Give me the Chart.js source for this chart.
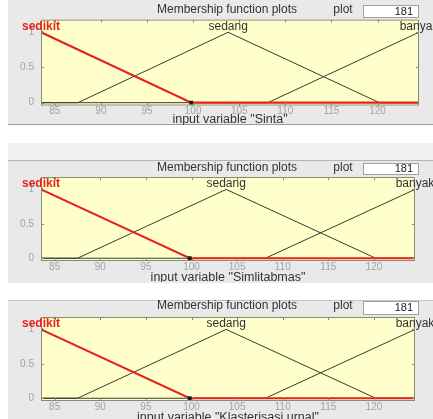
<!DOCTYPE html>
<html>
<head>
<meta charset="utf-8">
<script src="https://cdn.jsdelivr.net/npm/chart.js@4.4.1/dist/chart.umd.min.js"></script>
<style>
  html, body { margin: 0; padding: 0; background: #fff; }
  #wrap { position: relative; width: 433px; height: 419px; overflow: hidden; }
  .panel { position: absolute; left: 8px; right: 0; background: #e9e9e9; }
  canvas { position: absolute; left: 0; }
</style>
</head>
<body>
<div id="wrap">
  <div class="panel" style="top:0;height:124px;border-bottom:1px solid #9c9c9c;"></div>
  <div class="panel" style="top:143px;height:17px;background:#f1f1f1;"></div>
  <div class="panel" style="top:160px;height:122px;border-top:1px solid #b4b4b4;"></div>
  <div class="panel" style="top:300px;height:119px;border-top:1px solid #c4c4c4;"></div>
  <canvas id="c1" width="433" height="125" style="top:0"></canvas>
  <canvas id="c2" width="433" height="122" style="top:160px"></canvas>
  <canvas id="c3" width="433" height="119" style="top:300px"></canvas>
</div>
<script>
// data membership function (trimf)
const variableNames = ['Sinta', 'Simlitabmas', 'Klasterisasi urnal'];
const mfNames = ['sedikit', 'sedang', 'banyak'];
const xRange = [83.5, 124.5];
const yRange = [-0.04, 1.18];
const xTicks = [85, 90, 95, 100, 105, 110, 115, 120];
const yTicks = [0, 0.5, 1];
const sedikitX = [83.5, 99.8, 124.5];
const sedikitY = [1, 0, 0];
const sedangX = [83.5, 87.5, 103.8, 120.2, 124.5];
const sedangY = [0, 0, 1, 0, 0];
const banyakX = [83.5, 108.1, 124.5];
const banyakY = [0, 0, 1];
const plotValue = '181';

// letak tiap panel (pixel)
const panels = [
  { id: 'c1', h: 125, top: 19.6, bottom: 105.5, right: 419, titleY: 10, box: [5, 17], xlabelY: 120 },
  { id: 'c2', h: 122, top: 17, bottom: 101, right: 415, titleY: 8, box: [3, 14], xlabelY: 118 },
  { id: 'c3', h: 119, top: 17, bottom: 101, right: 415, titleY: 6, box: [1, 14], xlabelY: 118 }
];

const FONT = '"Liberation Sans", Arial, sans-serif';
const toPts = (xs, ys) => xs.map((x, i) => ({ x: x, y: ys[i] }));

function mfPlugin(p, varName) {
  return {
    id: 'mf',
    beforeDatasetsDraw(chart) {
      const a = chart.chartArea, ctx = chart.ctx;
      ctx.save();
      ctx.fillStyle = '#ffffcc';
      ctx.fillRect(a.left, a.top, a.right - a.left, a.bottom - a.top);
      ctx.restore();
    },
    afterDraw(chart) {
      const a = chart.chartArea, ctx = chart.ctx;
      const xs = chart.scales.x, ys = chart.scales.y;
      ctx.save();
      // kotak sumbu + tick ke dalam
      ctx.strokeStyle = '#8a8a74';
      ctx.lineWidth = 1;
      ctx.strokeRect(a.left + 0.5, a.top + 0.5, a.right - a.left - 1, a.bottom - a.top - 1);
      ctx.beginPath();
      xTicks.forEach(v => {
        const px = Math.round(xs.getPixelForValue(v)) + 0.5;
        ctx.moveTo(px, a.top); ctx.lineTo(px, a.top + 3);
        ctx.moveTo(px, a.bottom); ctx.lineTo(px, a.bottom - 3);
      });
      yTicks.forEach(v => {
        const py = Math.round(ys.getPixelForValue(v)) + 0.5;
        ctx.moveTo(a.left, py); ctx.lineTo(a.left + 3, py);
        ctx.moveTo(a.right, py); ctx.lineTo(a.right - 3, py);
      });
      ctx.stroke();

      // judul dan kotak plot points
      ctx.textBaseline = 'middle';
      ctx.textAlign = 'center';
      ctx.fillStyle = '#333';
      ctx.font = '12px ' + FONT;
      ctx.fillText('Membership function plots', 227, p.titleY);
      ctx.fillText('plot', 343, p.titleY);
      ctx.fillStyle = '#fff';
      ctx.fillRect(363, p.box[0], 55, p.box[1] - p.box[0]);
      ctx.strokeStyle = '#a0a0a0';
      ctx.strokeRect(363.5, p.box[0] + 0.5, 55, p.box[1] - p.box[0]);
      ctx.fillStyle = '#222';
      ctx.textAlign = 'right';
      ctx.font = '11px ' + FONT;
      ctx.fillText(plotValue, 413, (p.box[0] + p.box[1]) / 2 + 0.5);

      // nama membership function di atas puncak
      const peaks = [sedikitX[0], sedangX[2], banyakX[2]];
      const y1 = ys.getPixelForValue(1) - 6;
      ctx.textAlign = 'center';
      mfNames.forEach((n, i) => {
        ctx.font = (i === 0 ? 'bold ' : '') + '12px ' + FONT;
        ctx.fillStyle = i === 0 ? '#e8221b' : '#333';
        ctx.fillText(n, xs.getPixelForValue(peaks[i]), y1);
      });

      // label sumbu x
      ctx.font = '12.5px ' + FONT;
      ctx.fillStyle = '#333';
      ctx.fillText('input variable "' + varName + '"', (a.left + a.right) / 2, p.xlabelY);
      ctx.restore();
    }
  };
}

panels.forEach((p, k) => {
  new Chart(document.getElementById(p.id), {
    type: 'scatter',
    data: {
      datasets: [
        {
          label: mfNames[0],
          data: toPts(sedikitX, sedikitY),
          showLine: true,
          borderColor: '#e8221b',
          borderWidth: 2.2,
          pointStyle: 'rect',
          pointRadius: [2.2, 2.8, 0],
          pointBackgroundColor: '#1a1a1a',
          pointBorderColor: '#1a1a1a',
          pointBorderWidth: 0
        },
        {
          label: mfNames[1],
          data: toPts(sedangX, sedangY),
          showLine: true,
          borderColor: '#3a3a30',
          borderWidth: 1,
          pointRadius: 0
        },
        {
          label: mfNames[2],
          data: toPts(banyakX, banyakY),
          showLine: true,
          borderColor: '#3a3a30',
          borderWidth: 1,
          pointRadius: 0
        }
      ]
    },
    options: {
      responsive: false,
      animation: false,
      layout: { padding: { top: p.top, right: 433 - p.right, left: 0, bottom: 0 } },
      plugins: { legend: { display: false }, tooltip: { enabled: false } },
      scales: {
        x: {
          type: 'linear',
          min: xRange[0],
          max: xRange[1],
          afterBuildTicks: s => { s.ticks = xTicks.map(v => ({ value: v })); },
          afterFit: s => { s.height = p.h - p.bottom; },
          grid: { display: false, drawTicks: false },
          border: { display: false },
          ticks: { padding: 0, color: '#a2a2a2', font: { family: FONT, size: 10 }, maxRotation: 0 }
        },
        y: {
          min: yRange[0],
          max: yRange[1],
          afterBuildTicks: s => { s.ticks = yTicks.map(v => ({ value: v })); },
          afterFit: s => { s.width = 41; },
          grid: { display: false, drawTicks: false },
          border: { display: false },
          ticks: { padding: 7, color: '#a2a2a2', font: { family: FONT, size: 10 }, callback: v => String(v) }
        }
      }
    },
    plugins: [mfPlugin(p, variableNames[k])]
  });
});
</script>
</body>
</html>
